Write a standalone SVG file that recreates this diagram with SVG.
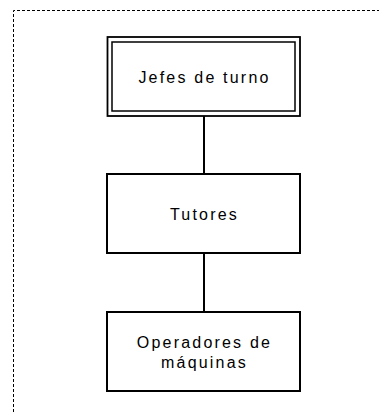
<svg xmlns="http://www.w3.org/2000/svg" width="379" height="412" viewBox="0 0 379 412">
<style>
.frame{fill:none;stroke:#000;stroke-width:1;stroke-dasharray:3,2}
.box{fill:#fff;stroke:#000;stroke-width:2}
.inner{fill:none;stroke:#000;stroke-width:1.5}
.conn{stroke:#000;stroke-width:2;fill:none}
text{font-family:"Liberation Sans",Arial,sans-serif;font-size:16px;letter-spacing:2.2px;fill:#000;text-anchor:middle}
</style>
<rect width="379" height="412" fill="#fff"/>
<path class="frame" d="M13.5,412 V10.5 H379"/>
<g id="connectors">
<line class="conn" x1="204" y1="116" x2="204" y2="174"/>
<line class="conn" x1="204" y1="253" x2="204" y2="312"/>
</g>
<g id="jefes">
<rect class="box" x="107.5" y="37" width="192.5" height="79" style="stroke-width:1.8"/>
<rect class="inner" x="112" y="42" width="183" height="69"/>
<text x="204.5" y="82.5">Jefes de turno</text>
</g>
<g id="tutores">
<rect class="box" x="107" y="174" width="193" height="79"/>
<text x="204.5" y="220">Tutores</text>
</g>
<g id="operadores">
<rect class="box" x="107" y="312" width="193" height="79"/>
<text x="204.5" y="347.5">Operadores de</text>
<text x="204.5" y="367.5">máquinas</text>
</g>
</svg>
